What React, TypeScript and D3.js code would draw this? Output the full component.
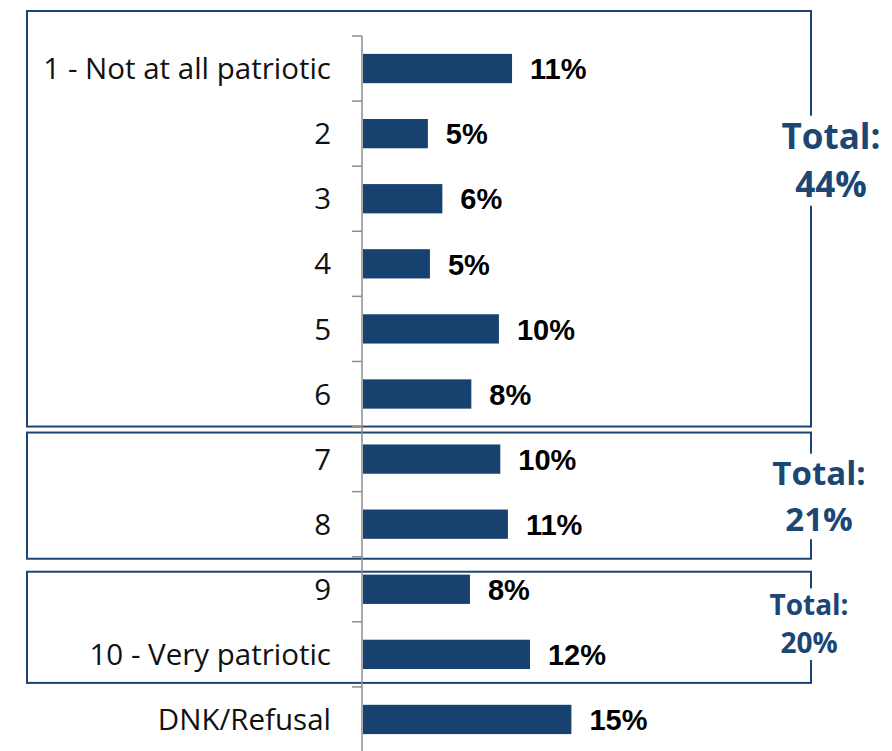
import React from "react";
import * as d3 from "d3";

const categories = ["1 - Not at all patriotic", "2", "3", "4", "5", "6", "7", "8", "9", "10 - Very patriotic", "DNK/Refusal"];
const values = [10.8, 4.7, 5.75, 4.85, 9.85, 7.85, 9.95, 10.5, 7.75, 12.1, 15.1];
const valueLabels = ["11%", "5%", "6%", "5%", "10%", "8%", "10%", "11%", "8%", "12%", "15%"];
const groupStarts = [0, 6, 8];
const groupEnds = [5, 7, 9];
const groupTotals = ["44%", "21%", "20%"];

const W = 892;
const H = 751;
const BLUE = "#17416f";
const BOX = "#1c4674";
const FONT = "'Open Sans', 'Liberation Sans', sans-serif";

export default function App() {
  const axisX = 362;
  const y = d3.scaleBand<string>().domain(categories).range([36, 752]).paddingInner(0.55).paddingOuter(0.275);
  const x = d3.scaleLinear().domain([0, 20]).range([axisX + 1, axisX + 1 + 276]);
  const step = y.step();
  const boundary = (i: number) => 36 + i * step;

  const boxTops = [boundary(0) - 25, boundary(6) + 6, boundary(8) + 15];
  const boxBottoms = [boundary(6), boundary(8) + 2, boundary(10) - 4];
  const totalX = [831, 819, 809];
  const totalSizes = [35, 33, 28];
  const totalLine1 = [149, 485, 615];
  const totalLine2 = [197, 531, 653];

  return (
    <svg width={W} height={H} style={{ position: "absolute", left: 0, top: 0, background: "#fff" }} fontFamily={FONT}>
      <rect x={0} y={0} width={W} height={H} fill="#fff" />
      {groupStarts.map((s, gi) => (
        <rect key={"box" + gi} x={27} y={boxTops[gi]} width={784} height={boxBottoms[gi] - boxTops[gi]} fill="none" stroke={BOX} strokeWidth={2} />
      ))}
      {/* axis */}
      <line x1={axisX} x2={axisX} y1={36} y2={H} stroke="#8c8c8c" strokeWidth={1.5} />
      {d3.range(categories.length + 1).map((i) => (
        <line key={"t" + i} x1={axisX - 10} x2={axisX} y1={boundary(i)} y2={boundary(i)} stroke="#8c8c8c" strokeWidth={1.5} />
      ))}
      {categories.map((c, i) => {
        const yy = y(c)!;
        const bh = y.bandwidth();
        return (
          <g key={c}>
            <rect x={x(0)} y={yy} width={x(values[i]) - x(0)} height={bh} fill={BLUE} />
            <text x={331} y={yy + bh / 2} dy="0.36em" textAnchor="end" fontSize={29.5} fill="#111">{c}</text>
            <text x={x(values[i]) + 18} y={yy + bh / 2} dy="0.37em" fontSize={29} fontWeight={700} fill="#000" fontFamily="'Liberation Sans', Arial, sans-serif">{valueLabels[i]}</text>
          </g>
        );
      })}
      {groupTotals.map((t, gi) => (
        <g key={"tot" + gi}>
          <rect x={totalX[gi] - 55} y={totalLine1[gi] - totalSizes[gi] * 0.95} width={110} height={totalLine2[gi] - totalLine1[gi] + totalSizes[gi] * 1.2} fill="#fff" />
          <text x={totalX[gi]} y={totalLine1[gi]} textAnchor="middle" fontSize={totalSizes[gi]} fontWeight={700} fill={BOX}>Total:</text>
          <text x={totalX[gi]} y={totalLine2[gi]} textAnchor="middle" fontSize={totalSizes[gi]} fontWeight={700} fill={BOX}>{t}</text>
        </g>
      ))}
    </svg>
  );
}
